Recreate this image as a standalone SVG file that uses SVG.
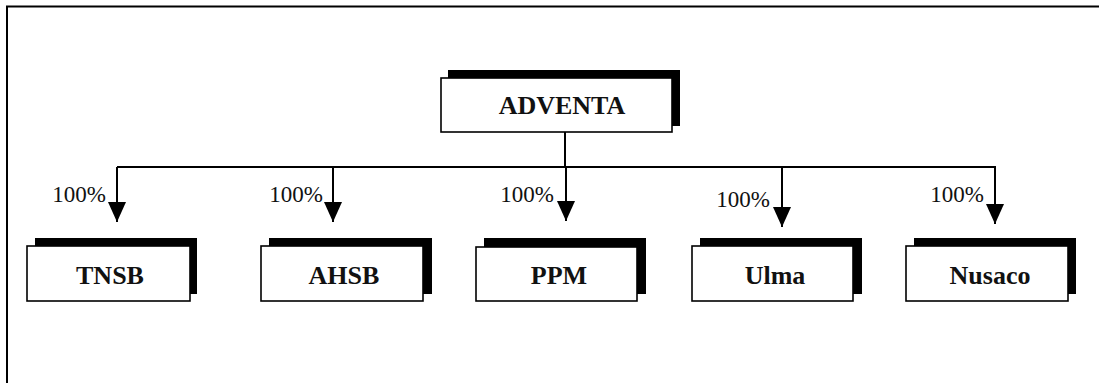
<svg xmlns="http://www.w3.org/2000/svg" width="1099" height="383" viewBox="0 0 1099 383">
<defs>
<marker id="arr" markerUnits="userSpaceOnUse" markerWidth="20" markerHeight="18" refX="20" refY="9" orient="auto" viewBox="0 0 20 18">
<path d="M0,0 L20,9 L0,18 z" fill="#000"/>
</marker>
</defs>
<style>
.shadow{fill:#000}
.box{fill:#fff;stroke:#000;stroke-width:1.6}
.name{font-family:"Liberation Serif","Times New Roman",serif;font-weight:bold;font-size:26px;fill:#111;text-anchor:middle}
.pct{font-family:"Liberation Serif","Times New Roman",serif;font-size:23px;fill:#111;text-anchor:end}
.ln{stroke:#000;stroke-width:2;fill:none}
</style>
<rect width="1099" height="383" fill="#fff"/>
<g id="frame">
<path class="ln" d="M7,383 L7,6.5 L1099,6.5" stroke-width="2.5"/>
</g>
<g id="connectors">
<path class="ln" d="M565,132 L565,167"/>
<path class="ln" d="M117,167 L996,167"/>
<line class="ln" x1="117" y1="167" x2="117" y2="222" marker-end="url(#arr)"/>
<line class="ln" x1="333" y1="167" x2="333" y2="222" marker-end="url(#arr)"/>
<line class="ln" x1="566" y1="167" x2="566" y2="221" marker-end="url(#arr)"/>
<line class="ln" x1="782" y1="167" x2="782" y2="227" marker-end="url(#arr)"/>
<line class="ln" x1="995" y1="167" x2="995" y2="224" marker-end="url(#arr)"/>
<text class="pct" x="106" y="202">100%</text>
<text class="pct" x="323" y="202">100%</text>
<text class="pct" x="554" y="202">100%</text>
<text class="pct" x="770" y="207">100%</text>
<text class="pct" x="984" y="202">100%</text>
</g>
<g id="adventa">
<rect class="shadow" x="448" y="70" width="232" height="56"/>
<rect class="box" x="441" y="78" width="231" height="54"/>
<text class="name" x="562" y="114">ADVENTA</text>
</g>
<g id="tnsb">
<rect class="shadow" x="35" y="238" width="162" height="56"/>
<rect class="box" x="27" y="246" width="163" height="55"/>
<text class="name" x="110" y="284">TNSB</text>
</g>
<g id="ahsb">
<rect class="shadow" x="269" y="238" width="163" height="56"/>
<rect class="box" x="261" y="246" width="162" height="55"/>
<text class="name" x="344" y="284">AHSB</text>
</g>
<g id="ppm">
<rect class="shadow" x="484" y="238" width="162" height="56"/>
<rect class="box" x="476" y="247" width="161" height="54"/>
<text class="name" x="559" y="284">PPM</text>
</g>
<g id="ulma">
<rect class="shadow" x="700" y="238" width="162" height="56"/>
<rect class="box" x="692" y="246" width="161" height="55"/>
<text class="name" x="775" y="284">Ulma</text>
</g>
<g id="nusaco">
<rect class="shadow" x="914" y="238" width="162" height="56"/>
<rect class="box" x="906" y="246" width="162" height="55"/>
<text class="name" x="990" y="284">Nusaco</text>
</g>
</svg>
